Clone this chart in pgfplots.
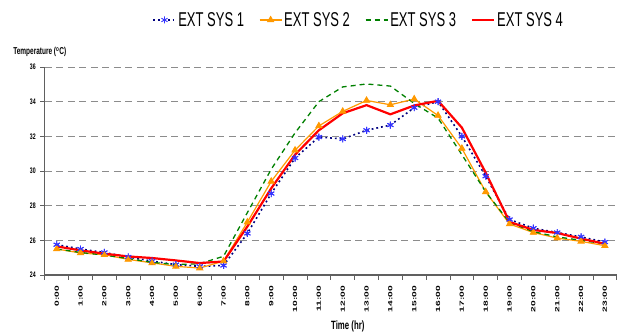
\documentclass[border=0pt]{standalone}
\usepackage{pgfplots}
\pgfplotsset{compat=1.18}
\usepackage{fontspec}
\setmainfont{Liberation Sans}
\newfontfamily\narrowfont[FakeStretch=0.65]{Liberation Sans}
\newfontfamily\tickxfont[FakeStretch=1.7]{Liberation Sans}
\definecolor{sone}{HTML}{000080}
\definecolor{sonem}{HTML}{3333FF}
\definecolor{stwo}{HTML}{FF9900}
\definecolor{sthree}{HTML}{008000}
\definecolor{sfour}{HTML}{FF0000}
\definecolor{axgray}{HTML}{606060}
\definecolor{gridgray}{HTML}{8C8C8C}

\pgfplotstableread{
x s1 s2 s3 s4
0 25.75 25.50 25.50 25.65
1 25.50 25.27 25.30 25.42
2 25.30 25.17 25.15 25.23
3 25.04 24.90 24.95 25.07
4 24.80 24.70 24.73 24.98
5 24.60 24.50 24.60 24.84
6 24.50 24.40 24.65 24.69
7 24.55 24.80 25.08 24.78
8 26.40 27.05 27.60 26.80
9 28.70 29.40 30.10 29.00
10 30.75 31.20 32.20 30.94
11 31.96 32.60 34.00 32.35
12 31.85 33.44 34.85 33.33
13 32.35 34.07 35.02 33.80
14 32.65 33.82 34.90 33.27
15 33.65 34.15 33.90 33.78
16 34.00 33.20 33.05 34.05
17 32.00 31.30 30.94 32.50
18 29.70 28.80 28.80 29.90
19 27.20 26.94 27.03 27.06
20 26.70 26.45 26.50 26.60
21 26.45 26.13 26.20 26.42
22 26.20 25.94 26.00 26.10
23 25.90 25.69 25.80 25.80
}\datatable

\begin{document}
\begin{tikzpicture}
\useasboundingbox (-44.8pt,-60pt) rectangle (576.2pt,275pt);
\begin{axis}[
  scale only axis,
  width=572pt, height=208pt,
  xmin=-0.5, xmax=23.5,
  ymin=24, ymax=36,
  ytick={24,26,...,36},
  xtick={-0.5,0.5,...,23.5},
  x tick label as interval,
  xticklabels={0:00,1:00,2:00,3:00,4:00,5:00,6:00,7:00,8:00,9:00,10:00,11:00,12:00,13:00,14:00,15:00,16:00,17:00,18:00,19:00,20:00,21:00,22:00,23:00},
  axis x line=bottom, axis y line=left,
  axis line style={-, draw=axgray, line width=1.2pt},
  tick align=outside,
  major tick length=4.5pt,
  tick style={draw=axgray, line width=0.9pt},
  ymajorgrids,
  grid style={draw=gridgray, line width=0.9pt, dash pattern=on 7pt off 4.5pt},
  /pgf/number format/assume math mode=true,
  yticklabel style={font=\narrowfont\bfseries\fontsize{8}{8}\selectfont, xshift=-1pt},
  xticklabel style={font=\tickxfont\bfseries\fontsize{6}{6}\selectfont, rotate=90, anchor=east, xshift=-3pt},
  xlabel={Time (hr)},
  ylabel={Temperature (\textsuperscript{o}C)},
  every axis x label/.style={at={(rel axis cs:0.5,0)}, anchor=center, yshift=-51pt, xshift=17pt, font=\narrowfont\bfseries\fontsize{12}{12}\selectfont},
  every axis y label/.style={at={(rel axis cs:0,1)}, anchor=center, xshift=-5pt, yshift=15pt, font=\narrowfont\bfseries\fontsize{10}{10}\selectfont},
  legend columns=4,
  legend style={draw=none, fill=none, at={(rel axis cs:0.549,1.226)}, anchor=center,
    font=\narrowfont\fontsize{20}{22}\selectfont,
    /tikz/every even column/.append style={column sep=13pt}},
  legend image code/.code={\draw[mark repeat=2,mark phase=2] plot coordinates {(0pt,0pt)(11pt,0pt)(22pt,0pt)};},
]
\addplot[sone, line width=1.6pt, dash pattern=on 1.8pt off 3pt, mark=asterisk, mark size=3.5pt, mark options={solid, draw=sonem, line width=0.9pt}] table[x=x,y=s1] {\datatable};
\addlegendentry{EXT SYS 1}
\addplot[stwo, line width=1.2pt, mark=triangle*, mark size=3.2pt, mark options={solid, fill=stwo, draw=stwo}] table[x=x,y=s2] {\datatable};
\addlegendentry{EXT SYS 2}
\addplot[sthree, line width=1.3pt, dash pattern=on 5pt off 4pt, no marks] table[x=x,y=s3] {\datatable};
\addlegendentry{EXT SYS 3}
\addplot[sfour, line width=2.2pt, no marks] table[x=x,y=s4] {\datatable};
\addlegendentry{EXT SYS 4}
\addplot[only marks, mark=asterisk, mark size=3.5pt, mark options={draw=sonem, line width=0.9pt}, forget plot] table[x=x,y=s1] {\datatable};
\addplot[only marks, mark=triangle*, mark size=3.2pt, mark options={fill=stwo, draw=stwo}, forget plot] table[x=x,y=s2] {\datatable};
\end{axis}
\end{tikzpicture}
\end{document}
